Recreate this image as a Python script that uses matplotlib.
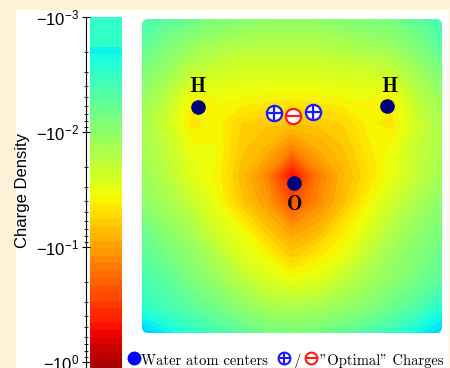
import matplotlib
matplotlib.use("Agg")
import matplotlib.pyplot as plt
import numpy as np
from matplotlib.colors import ListedColormap, BoundaryNorm
from matplotlib.patches import Rectangle, FancyBboxPatch

plt.rcParams['mathtext.fontset'] = 'custom'
plt.rcParams['mathtext.rm'] = 'Liberation Sans'
plt.rcParams['mathtext.it'] = 'Liberation Sans:italic'
plt.rcParams['font.family'] = ['Liberation Sans', 'DejaVu Sans']

# grid of the charge density map (log10 of |density|)
x_grid = [-3.0, -2.5, -2.0, -1.5, -1.0, -0.5, 0.0, 0.5, 1.0, 1.5, 2.0, 2.5, 3.0]
y_grid = [3.14, 2.62, 2.09, 1.57, 1.05, 0.52, 0.0, -0.52, -1.05, -1.57, -2.09, -2.62, -3.14]
log_density = [
    [-2.35, -2.28, -2.20, -2.10, -2.05, -2.00, -2.00, -2.00, -2.05, -2.10, -2.15, -2.25, -2.45],
    [-2.28, -2.10, -1.95, -1.87, -1.80, -1.80, -1.80, -1.80, -1.85, -1.90, -1.95, -2.10, -2.30],
    [-2.10, -1.95, -1.73, -1.65, -1.60, -1.60, -1.60, -1.60, -1.62, -1.65, -1.70, -1.90, -2.10],
    [-1.95, -1.75, -1.42, -1.45, -1.45, -1.42, -1.40, -1.42, -1.45, -1.45, -1.42, -1.75, -1.95],
    [-1.87, -1.65, -1.35, -1.42, -1.25, -1.20, -1.20, -1.20, -1.25, -1.40, -1.35, -1.65, -1.85],
    [-1.87, -1.73, -1.48, -1.45, -1.20, -1.10, -0.85, -1.05, -1.17, -1.35, -1.48, -1.70, -1.85],
    [-1.95, -1.77, -1.55, -1.42, -1.15, -0.88, -0.32, -0.82, -1.10, -1.30, -1.50, -1.72, -1.90],
    [-2.00, -1.87, -1.70, -1.48, -1.20, -0.98, -0.62, -0.88, -1.15, -1.42, -1.65, -1.85, -2.00],
    [-2.20, -2.00, -1.85, -1.60, -1.45, -1.20, -0.98, -1.10, -1.35, -1.55, -1.80, -1.97, -2.10],
    [-2.28, -2.15, -2.00, -1.80, -1.55, -1.42, -1.22, -1.35, -1.48, -1.73, -1.93, -2.05, -2.20],
    [-2.40, -2.28, -2.10, -1.95, -1.77, -1.60, -1.50, -1.55, -1.73, -1.87, -2.00, -2.15, -2.30],
    [-2.55, -2.40, -2.28, -2.15, -2.00, -1.87, -1.85, -1.87, -1.95, -2.05, -2.20, -2.35, -2.60],
    [-2.95, -2.75, -2.55, -2.40, -2.28, -2.15, -2.10, -2.15, -2.25, -2.35, -2.50, -2.70, -2.90],
]

atom_names = ['H', 'H', 'O']
atom_x = [-1.88, 1.90, 0.04]
atom_y = [1.38, 1.40, -0.14]
label_x = [-1.90, 1.94, 0.06]
label_y = [1.80, 1.80, -0.56]

plus_x = [-0.36, 0.42]
plus_y = [1.26, 1.28]
minus_x = [0.02]
minus_y = [1.20]

cbar_ticks = [-3, -2, -1, 0]
cbar_labels = [r'$-10^{-3}$', r'$-10^{-2}$', r'$-10^{-1}$', r'$-10^{0}$']

# colour scale: banded jet, cyan at log10 = -2.74, dark red at the bottom
levels = np.linspace(-3.26, 0.05, 52)
jet = plt.get_cmap('jet')
mids = 0.5 * (levels[:-1] + levels[1:])
cmap = ListedColormap([jet(0.36 + (m + 2.74) * 0.2186) for m in mids])
norm = BoundaryNorm(levels, cmap.N)

W, H = 450, 368
fig = plt.figure(figsize=(4.5, 3.68), dpi=100, facecolor='#fdf1d8')
fig.patches.append(Rectangle((16 / W, 0), 433 / W, 358 / H, transform=fig.transFigure,
                             facecolor='white', edgecolor='none', zorder=-10))

# density map
ax = fig.add_axes([142 / W, 35 / H, 300 / W, 314 / H])
cs = ax.contourf(x_grid, y_grid, log_density, levels=levels, cmap=cmap, norm=norm)
clip = FancyBboxPatch((-3, -3.14), 6, 6.28, boxstyle='round,pad=0,rounding_size=0.12',
                      transform=ax.transData, facecolor='none', edgecolor='none')
ax.add_patch(clip)
cs.set_clip_path(clip)
ax.set_xlim(-3, 3)
ax.set_ylim(-3.14, 3.14)
ax.axis('off')

ax.plot(atom_x, atom_y, 'o', color='#00007f', ms=9.5, zorder=5)
for name, lx, ly in zip(atom_names, label_x, label_y):
    ax.text(lx, ly, name, fontfamily='cmb10', fontsize=15, ha='center', va='center', zorder=6)

ax.plot(plus_x, plus_y, 'o', ms=11, mfc='white', mec='#1a1aff', mew=1.6, zorder=6)
ax.plot(plus_x, plus_y, '+', ms=11, color='#1a1aff', mew=1.6, zorder=7)
ax.plot(minus_x, minus_y, 'o', ms=11, mfc='white', mec='#ff1a1a', mew=1.6, zorder=6)
ax.plot(minus_x, minus_y, '_', ms=11, color='#ff1a1a', mew=1.6, zorder=7)

# colour bar: bands from -10^-2.74 downwards, one flat block above
cax = fig.add_axes([86 / W, 0, 36 / W, 351 / H])
cax.patch.set_alpha(0)
keep = levels >= -2.745
cb_edges = levels[keep]
cb_mids = 0.5 * (cb_edges[:-1] + cb_edges[1:])
cax.pcolormesh([0.11, 1.0], cb_edges, cb_mids.reshape(-1, 1), cmap=cmap, norm=norm)
cax.add_patch(Rectangle((0.11, -3), 0.89, cb_edges[0] + 3, facecolor=jet(0.41),
                        edgecolor='none'))
cax.set_xlim(0, 1)
cax.set_ylim(0.052, -3)
for s in ['top', 'right', 'bottom']:
    cax.spines[s].set_visible(False)
cax.set_xticks([])
cax.set_yticks(cbar_ticks)
cax.set_yticklabels(cbar_labels, fontsize=12)
minor = [n + np.log10(k) for n in range(-3, 0) for k in range(2, 10)]
cax.set_yticks(minor, minor=True)
cax.tick_params(axis='y', which='major', direction='inout', length=6, pad=2)
cax.tick_params(axis='y', which='minor', direction='inout', length=3)
fig.text(23 / W, 1 - 190 / H, 'Charge Density', rotation=90, fontsize=12,
         ha='center', va='center')

# legend row at the bottom
lax = fig.add_axes([0, 0, 1, 1])
lax.set_xlim(0, W)
lax.set_ylim(H, 0)
lax.axis('off')
lax.plot([134], [358], 'o', color='#0000ff', ms=9)
lax.text(141, 365, 'Water atom centers', fontfamily='cmr10', fontsize=10.5, va='baseline')
lax.plot([284], [358], 'o', ms=8.5, mfc='white', mec='#1a1aff', mew=1.5)
lax.plot([284], [358], '+', ms=8.5, color='#1a1aff', mew=1.5)
lax.text(297, 365, '/', fontfamily='cmr10', fontsize=10.5, va='baseline', ha='center')
lax.plot([311], [358], 'o', ms=8.5, mfc='white', mec='#ff1a1a', mew=1.5)
lax.plot([311], [358], '_', ms=8.5, color='#ff1a1a', mew=1.5)
lax.text(320, 365, '"Optimal" Charges', fontfamily='cmr10', fontsize=10.5, va='baseline')

fig.savefig('out.png', dpi=100, facecolor=fig.get_facecolor())
